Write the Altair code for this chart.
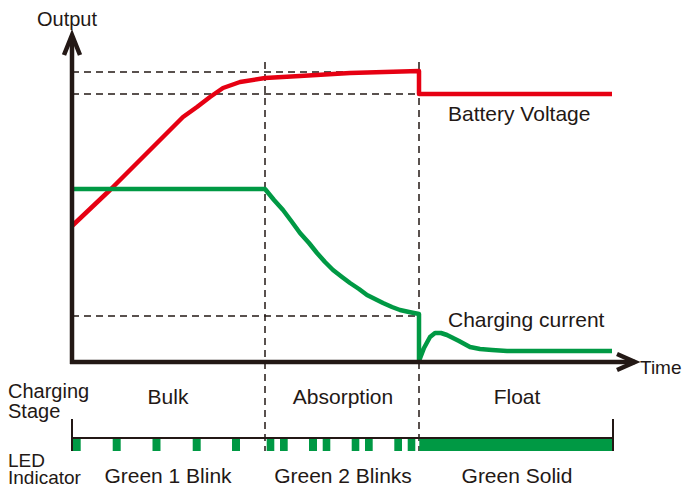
import altair as alt
import pandas as pd

# ---- data (chart units: time along x, output along y; origin at the axis corner) ----
red_t = [0, 38, 65, 88, 111, 125, 138, 151, 168, 193, 228, 278, 347, 347, 540]
red_v = [136, 172, 199, 222, 245, 255, 265, 274, 280, 284, 286, 289, 291, 268, 268]

green_t = [0, 193, 202, 211, 220, 228, 237, 245, 253, 261, 270, 278, 287, 295, 303, 311,
           320, 328, 337, 347, 347, 352, 358, 363, 369, 375, 387, 398, 408, 420, 435, 540]
green_v = [173, 173, 162, 152, 140, 129, 119, 109, 100, 92, 85, 79, 73, 67, 63, 59,
           55, 52, 50, 48, 1, 14, 25, 29, 29, 27, 21, 15, 13, 12, 11, 11]

ref_levels = [290, 268, 46]          # dashed horizontal reference levels
stage_bounds = [193, 347]            # dashed vertical stage boundaries
time_end = 540

stages = ["Bulk", "Absorption", "Float"]
stage_centers = [96, 271, 445]
led_labels = ["Green 1 Blink", "Green 2 Blinks", "Green Solid"]

blink_start = [0.7, 40.7, 80.5, 120.7, 160, 194.7, 208, 237, 250.7, 279.7, 293, 322.3, 335.7, 347.3]
blink_end = [8.7, 48.7, 88.5, 128.7, 168, 202.3, 215.7, 245, 258.3, 287.3, 300.7, 330, 343.3, 541]

INK = "#231815"
RED = "#e60012"
GREEN = "#009944"
FONT = "Liberation Sans"
FS = 21

XS = alt.Scale(domain=[-64, 611], nice=False, zero=False)
YS = alt.Scale(domain=[-125, 354], nice=False, zero=False)


def X(f="x"):
    return alt.X(f"{f}:Q", scale=XS, axis=None)


def Y(f="y"):
    return alt.Y(f"{f}:Q", scale=YS, axis=None)


# dashed reference lines
hdash = pd.DataFrame({"x": [0] * len(ref_levels), "x2": [stage_bounds[1]] * len(ref_levels), "y": ref_levels})
vdash = pd.DataFrame({"x": stage_bounds, "y": [300, 300], "y2": [-89, -89]})
hd = alt.Chart(hdash).mark_rule(color=INK, strokeWidth=1.5, strokeDash=[7, 5]).encode(x=X(), x2="x2", y=Y())
vd = alt.Chart(vdash).mark_rule(color=INK, strokeWidth=1.5, strokeDash=[7, 5]).encode(x=X(), y=Y(), y2="y2")

red_df = pd.DataFrame({"x": red_t, "y": red_v, "i": range(len(red_t))})
green_df = pd.DataFrame({"x": green_t, "y": green_v, "i": range(len(green_t))})
red = alt.Chart(red_df).mark_line(color=RED, strokeWidth=4.5, strokeJoin="round").encode(
    x=X(), y=Y(), order="i:Q")
green = alt.Chart(green_df).mark_line(color=GREEN, strokeWidth=4.5, strokeJoin="round").encode(
    x=X(), y=Y(), order="i:Q")

# axes with arrowheads
axes_df = pd.DataFrame({
    "x": [0, 0, -2, 563, -8, 0, 8, 545, 563, 545],
    "y": [-2, 326, 0, 0, 307, 327, 307, 8, 0, -8],
    "g": ["ya", "ya", "xa", "xa", "yh", "yh", "yh", "xh", "xh", "xh"],
    "i": list(range(10)),
})
axes = alt.Chart(axes_df).mark_line(color=INK, strokeWidth=4.5, strokeJoin="miter").encode(
    x=X(), y=Y(), detail="g:N", order="i:Q")

# LED indicator bar
bar_line = pd.DataFrame({"x": [0], "x2": [time_end + 1], "y": [-76]})
bar_ticks = pd.DataFrame({"x": [0, time_end + 1], "y": [-57, -57], "y2": [-89, -89]})
bl = alt.Chart(bar_line).mark_rule(color=INK, strokeWidth=2).encode(x=X(), x2="x2", y=Y())
bt = alt.Chart(bar_ticks).mark_rule(color=INK, strokeWidth=2).encode(x=X(), y=Y(), y2="y2")
blinks = pd.DataFrame({"x": blink_start, "x2": blink_end, "y": [-77] * len(blink_start), "y2": [-89] * len(blink_start)})
bk = alt.Chart(blinks).mark_rect(color=GREEN).encode(x=X(), x2="x2", y=Y(), y2="y2")

# texts
left_txt = pd.DataFrame({
    "x": [376, 376],
    "y": [241, 35],
    "t": ["Battery Voltage", "Charging current"],
})
time_txt = pd.DataFrame({"x": [568], "y": [-12], "t": ["Time"]})
side_txt = pd.DataFrame({
    "x": [-64, -64],
    "y": [-36, -56],
    "t": ["Charging", "Stage"],
})
led_txt = pd.DataFrame({
    "x": [-64, -64],
    "y": [-105, -122],
    "t": ["LED", "Indicator"],
})
out_txt = pd.DataFrame({"x": [-5], "y": [336], "t": ["Output"]})
center_txt = pd.DataFrame({
    "x": stage_centers + stage_centers,
    "y": [-42, -42, -42, -121, -121, -121],
    "t": stages + led_labels,
})
lt = alt.Chart(left_txt).mark_text(align="left", baseline="alphabetic", font=FONT, fontSize=FS, color=INK).encode(
    x=X(), y=Y(), text="t:N")
tt = alt.Chart(time_txt).mark_text(align="left", baseline="alphabetic", font=FONT, fontSize=19, color=INK).encode(
    x=X(), y=Y(), text="t:N")
st = alt.Chart(side_txt).mark_text(align="left", baseline="alphabetic", font=FONT, fontSize=20, color=INK).encode(
    x=X(), y=Y(), text="t:N")
ledt = alt.Chart(led_txt).mark_text(align="left", baseline="alphabetic", font=FONT, fontSize=19, color=INK).encode(
    x=X(), y=Y(), text="t:N")
ot = alt.Chart(out_txt).mark_text(align="center", baseline="alphabetic", font=FONT, fontSize=20, color=INK).encode(
    x=X(), y=Y(), text="t:N")
ct = alt.Chart(center_txt).mark_text(align="center", baseline="alphabetic", font=FONT, fontSize=FS, color=INK).encode(
    x=X(), y=Y(), text="t:N")

chart = alt.layer(hd, vd, red, green, bk, bl, bt, axes, lt, tt, st, ledt, ot, ct).properties(
    width=675, height=479, autosize="none", padding=0, background="white"
).configure_view(stroke=None)

chart.save("out.html", embed_options={"renderer": "svg", "actions": False})
